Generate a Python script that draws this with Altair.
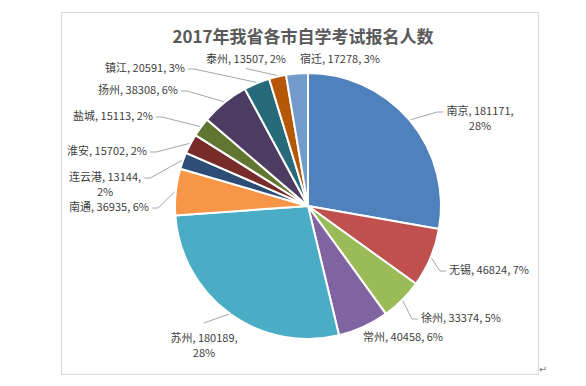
import math
import altair as alt
import pandas as pd

# ---- data ----
names = ["南京", "无锡", "徐州", "常州", "苏州", "南通", "连云港", "淮安", "盐城", "扬州", "镇江", "泰州", "宿迁"]
values = [181171, 46824, 33374, 40458, 180189, 36935, 13144, 15702, 15113, 38308, 20591, 13507, 17278]
title_text = "2017年我省各市自学考试报名人数"

# ---- style / layout ----
colors = ["#4F81BD", "#C0504D", "#9BBB59", "#8064A2", "#4BACC6", "#F79646",
          "#2C4D75", "#772C2A", "#5F7530", "#4D3B62", "#276A7C", "#B65708", "#729ACA"]
CX, CY, R = 300, 198, 133          # pie centre / radius (chart px)
# label centre offsets from the pie centre, and the side the leader attaches to
label_offsets = [(172, -94), (181, 65), (153, 113), (95, 132), (-104, 133), (-199, 2),
                 (-203, -28), (-201, -54), (-195, -89), (-170, -115), (-163, -137),
                 (-62, -146), (32, -146)]
leader_side = ["L", "L", "L", None, "T", "R", "R", "R", "R", "R", "R", "B", None]
wrapped = {"南京", "苏州", "连云港"}
FONT = "Noto Sans CJK SC"
LH = 15


def text_w(s):
    w = 0
    for c in s:
        if ord(c) > 0x2E80:
            w += 11
        elif c.isdigit():
            w += 6.1
        elif c == "%":
            w += 9.5
        else:
            w += 3
    return w


total = sum(values)
pie_rows, label_rows, leader_rows = [], [], []
cum = 0
for i, (n, v) in enumerate(zip(names, values)):
    a0 = cum / total * 2 * math.pi
    cum += v
    a1 = cum / total * 2 * math.pi
    mid = (a0 + a1) / 2
    pct = f"{round(v / total * 100)}%"
    if n in wrapped:
        txt = f"{n}, {v},\n{pct}"
    else:
        txt = f"{n}, {v}, {pct}"
    lines = txt.split("\n")
    hw = max(text_w(s) for s in lines) / 2
    hh = len(lines) * LH / 2
    lx = CX + label_offsets[i][0]
    ly = CY + label_offsets[i][1]
    pie_rows.append({"name": n, "value": v, "idx": i})
    label_rows.append({"name": n, "text": txt, "lx": lx, "ly": ly})
    ex = CX + (R + 1) * math.sin(mid)
    ey = CY - (R + 1) * math.cos(mid)
    side = leader_side[i]
    if side == "L":
        sx = lx - hw - 3
        pts = [(ex, ey), (sx - 6, ly), (sx, ly)]
    elif side == "R":
        sx = lx + hw + 3
        pts = [(ex, ey), (sx + 6, ly), (sx, ly)]
    elif side == "T":
        pts = [(ex, ey), (lx, ly - hh - 1)]
    elif side == "B":
        pts = [(ex, ey), (lx, ly + hh + 1)]
    else:
        pts = []
    for k, (px, py) in enumerate(pts):
        leader_rows.append({"name": n, "seq": k, "x": px, "y": py})

pie_df = pd.DataFrame(pie_rows)
label_df = pd.DataFrame(label_rows)
leader_df = pd.DataFrame(leader_rows)

frame = alt.Chart(pd.DataFrame({"a": [0]})).mark_rect(
    fillOpacity=0, stroke="#D9D9D9", strokeWidth=1
).encode(x=alt.value(53.5), x2=alt.value(530.5), y=alt.value(4.5), y2=alt.value(366.5))

pie = alt.Chart(pie_df).mark_arc(outerRadius=R, stroke="white", strokeWidth=2).encode(
    theta=alt.Theta("value:Q", stack=True),
    color=alt.Color("name:N", scale=alt.Scale(domain=names, range=colors), legend=None),
    order=alt.Order("idx:Q"),
    x=alt.value(CX),
    y=alt.value(CY),
)

leaders = alt.Chart(leader_df).mark_line(color="#A6A6A6", strokeWidth=1).encode(
    x=alt.X("x:Q", scale=None, axis=None),
    y=alt.Y("y:Q", scale=None, axis=None),
    detail="name:N",
    order="seq:Q",
)

labels = alt.Chart(label_df).mark_text(
    align="center", baseline="middle", lineBreak="\n", lineHeight=LH,
    fontSize=11, font=FONT, color="#404040"
).encode(
    x=alt.X("lx:Q", scale=None, axis=None),
    y=alt.Y("ly:Q", scale=None, axis=None),
    text="text:N",
)

title = alt.Chart(pd.DataFrame({"t": [title_text]})).mark_text(
    align="center", baseline="middle", fontSize=17, fontWeight="bold", font=FONT, color="#595959"
).encode(x=alt.value(295), y=alt.value(30), text="t:N")

para = alt.Chart(pd.DataFrame({"t": ["↵"]})).mark_text(
    align="center", baseline="middle", fontSize=10, font="DejaVu Sans", color="#808080"
).encode(x=alt.value(535), y=alt.value(362), text="t:N")

chart = alt.layer(frame, pie, leaders, labels, title, para).properties(
    width=570, height=370, padding=0, autosize=alt.AutoSizeParams(type="none"),
    background="white"
).configure_view(strokeWidth=0)

chart.save("out.html", embed_options={"renderer": "svg", "actions": False})
